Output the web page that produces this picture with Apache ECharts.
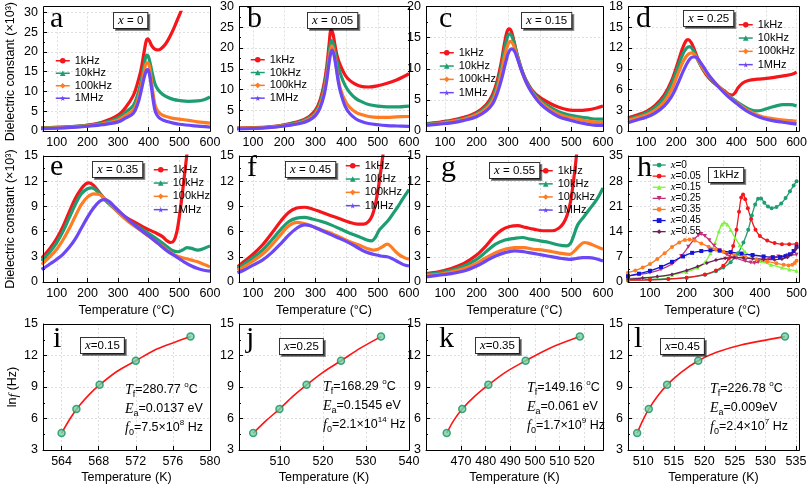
<!DOCTYPE html>
<html><head><meta charset="utf-8">
<script src="https://cdn.jsdelivr.net/npm/echarts@6/dist/echarts.min.js"></script>
<style>html,body{margin:0;padding:0;background:#fff}#c{width:810px;height:486px}</style>
</head><body><div id="c"></div><script>
// ---------------- DATA ----------------
const freqNames = ['1kHz','10kHz','100kHz','1MHz'];
const compNames = ['x=0','x=0.05','x=0.15','x=0.25','x=0.35','x=0.45','x=0.55'];
const panelLetters = ['a','b','c','d','e','f','g','h','i','j','k','l'];
const compLabels = ['0','0.05','0.15','0.25','0.35','0.45','0.55'];
const fitCompLabels = ['0.15','0.25','0.35','0.45'];
const celsiusTicks = [100,200,300,400,500,600];
const celsiusTicksH = [100,200,300,400,500];
const kelvinTicksI = [564,568,572,576,580];
const kelvinTicksJ = [510,520,530,540];
const kelvinTicksK = [470,480,490,500,510,520];
const kelvinTicksL = [510,515,520,525,530,535];

// panel a (x = 0)
const a_1k = [[40,0.8],[100,0.9],[150,1.1],[200,1.5],[250,2.3],[300,4.0],[325,6],[350,9],[365,12.5],[375,15.5],[385,20],[392,22.8],[397,23.3],[403,22.7],[410,21.5],[420,20.7],[430,20.5],[440,20.8],[455,22],[470,24],[485,26.5],[500,29.3],[515,32]];
const a_10k = [[40,0.8],[100,0.9],[150,1.1],[200,1.4],[250,2.0],[300,3.3],[325,4.8],[350,6.5],[365,9.5],[375,12.5],[385,16.5],[393,19.2],[398,19],[405,17],[412,14.5],[420,12],[430,10.5],[445,9.3],[460,8.6],[480,8.0],[500,7.7],[530,7.5],[560,7.6],[580,7.9],[600,8.6]];
const a_100k = [[40,0.7],[100,0.8],[150,1.0],[200,1.3],[250,1.8],[300,2.8],[325,4.0],[350,5.3],[365,8],[375,11],[385,15],[393,17.2],[398,17.2],[404,15.5],[410,12],[416,8.5],[422,6.2],[432,4.8],[445,4.0],[460,3.6],[480,3.2],[500,3.0],[530,2.7],[560,2.3],[600,2.0]];
const a_1M = [[40,0.6],[100,0.7],[150,0.9],[200,1.2],[250,1.6],[300,2.3],[325,3.3],[350,4.5],[365,7],[375,10],[385,13.5],[392,15.2],[396,15.5],[402,14.5],[408,11.5],[415,7.5],[422,4.8],[432,3.5],[445,2.8],[460,2.4],[480,2.0],[500,1.7],[550,1.3],[600,1.0]];
// panel b (x = 0.05)
const b_1k = [[40,0.7],[100,0.8],[150,1.0],[200,1.5],[250,2.4],[280,3.5],[300,5],[315,7.5],[328,11.5],[337,16],[344,21],[350,24.3],[356,23.5],[362,21],[370,18],[380,15.8],[395,13.5],[410,12.2],[430,11.2],[450,10.7],[470,10.6],[500,10.9],[530,11.5],[560,12.3],[580,13],[600,13.8]];
const b_10k = [[40,0.6],[100,0.7],[150,0.9],[200,1.4],[250,2.2],[280,3.2],[300,4.5],[315,6.8],[328,10.5],[337,14.5],[344,19],[351,21.8],[357,21],[363,19],[370,16.5],[380,13.8],[395,11],[410,9.3],[430,7.8],[450,7],[470,6.4],[500,6.0],[530,5.8],[560,5.8],[600,6.0]];
const b_100k = [[40,0.6],[100,0.7],[150,0.9],[200,1.3],[250,2.0],[280,2.9],[300,4.1],[315,6.2],[328,9.5],[337,13.5],[345,18],[352,20.5],[358,19.5],[365,16.5],[372,13],[380,10.2],[395,7.3],[410,5.7],[430,4.5],[450,3.9],[470,3.5],[500,3.3],[530,3.3],[560,3.4],[600,3.5]];
const b_1M = [[40,0.5],[100,0.6],[150,0.8],[200,1.2],[250,1.8],[280,2.6],[300,3.7],[315,5.6],[328,8.7],[337,12.5],[345,17],[353,19.5],[359,18.5],[366,15.5],[373,12],[380,9.5],[395,6],[410,4.2],[430,2.9],[450,2.2],[470,1.8],[500,1.5],[530,1.3],[560,1.2],[600,1.1]];
// panel c (x = 0.15)
const c_1k = [[40,1.2],[80,1.4],[120,1.7],[160,2.2],[200,3.0],[230,4.2],[250,5.8],[265,8],[278,11],[288,14],[296,15.9],[303,16.4],[310,16],[318,14.5],[328,12.3],[340,10.2],[355,8.3],[375,6.6],[400,5.4],[430,4.5],[460,3.8],[490,3.4],[520,3.3],[550,3.4],[580,3.7],[600,4.0]];
const c_10k = [[40,1.1],[80,1.3],[120,1.6],[160,2.0],[200,2.8],[230,3.9],[250,5.3],[265,7.4],[278,10.2],[288,13],[297,15],[305,15.6],[312,15.2],[320,13.9],[330,12],[342,10],[357,8],[377,6.3],[400,5.0],[430,3.9],[460,3.1],[490,2.6],[520,2.3],[550,2.1],[580,1.9],[600,1.9]];
const c_100k = [[40,1.0],[80,1.2],[120,1.5],[160,1.9],[200,2.6],[230,3.6],[250,4.8],[265,6.7],[278,9.3],[290,12.3],[300,14],[308,14.4],[315,14],[323,12.9],[333,11.2],[345,9.3],[360,7.5],[380,5.9],[400,4.7],[430,3.5],[460,2.7],[490,2.2],[520,1.9],[550,1.6],[580,1.4],[600,1.4]];
const c_1M = [[40,0.9],[80,1.1],[120,1.3],[160,1.7],[200,2.3],[230,3.2],[250,4.3],[265,6],[280,8.5],[292,11],[302,12.7],[312,13.2],[320,12.8],[328,11.8],[338,10.3],[350,8.7],[365,7],[385,5.4],[405,4.2],[430,3.2],[460,2.3],[490,1.8],[520,1.4],[550,1.1],[580,0.9],[600,0.9]];
// panel d (x = 0.25)
const d_1k = [[40,1.9],[70,2.3],[100,2.8],[130,3.7],[160,5.2],[185,7.3],[205,9.8],[220,11.8],[232,13],[240,13.2],[250,12.8],[262,11.6],[275,10.1],[290,8.8],[310,7.6],[335,6.6],[360,5.8],[375,5.3],[385,5.2],[395,5.5],[405,6.2],[420,6.9],[440,7.3],[470,7.5],[500,7.6],[530,7.8],[560,8],[585,8.2],[600,8.5]];
const d_10k = [[40,1.7],[70,2.1],[100,2.6],[130,3.4],[160,4.8],[185,6.8],[205,9.2],[222,11.1],[235,12],[245,12.2],[255,11.8],[268,10.6],[280,9.6],[300,8.3],[330,6.9],[360,5.7],[390,4.6],[420,3.7],[445,3.1],[465,2.9],[485,3.0],[505,3.3],[530,3.6],[555,3.8],[580,3.8],[600,3.6]];
const d_100k = [[40,1.5],[70,1.9],[100,2.3],[130,3.0],[160,4.2],[185,6],[205,8.2],[225,10.2],[240,11.1],[252,11.3],[262,11],[275,10.1],[290,9],[310,7.9],[340,6.5],[370,5.2],[400,4.1],[430,3.2],[460,2.5],[490,2.0],[520,1.8],[550,1.6],[580,1.5],[600,1.4]];
const d_1M = [[40,1.2],[70,1.6],[100,2.0],[130,2.6],[160,3.6],[185,5.0],[205,6.8],[225,8.8],[242,10.2],[255,10.7],[265,10.7],[278,10.1],[292,9.2],[310,8.0],[340,6.4],[370,5.1],[400,4.0],[430,3.0],[460,2.3],[490,1.8],[520,1.5],[550,1.3],[580,1.1],[600,1.0]];
// panel e (x = 0.35)
const e_1k = [[50,2.8],[60,3.2],[80,4.1],[100,5.2],[120,6.6],[140,8.3],[160,9.9],[180,11.1],[195,11.7],[205,11.8],[220,11.5],[240,10.6],[260,9.7],[280,9],[300,8.4],[330,7.6],[360,7],[390,6.4],[420,5.9],[445,5.4],[460,4.9],[472,4.7],[482,4.9],[492,6],[500,7.8],[508,10],[516,12.5],[524,15],[532,17.5]];
const e_10k = [[50,2.5],[60,2.9],[80,3.7],[100,4.7],[120,6],[140,7.6],[160,9.2],[180,10.5],[200,11.1],[215,11.2],[235,10.7],[260,9.7],[280,9],[300,8.3],[330,7.4],[360,6.7],[390,6],[420,5.3],[450,4.5],[475,3.8],[495,3.6],[510,3.8],[525,4.1],[540,4.0],[560,3.8],[580,4.0],[600,4.3]];
const e_100k = [[50,2.1],[60,2.4],[80,3.1],[100,3.9],[120,5],[140,6.3],[160,7.8],[180,9.2],[200,10.1],[220,10.5],[240,10.4],[260,9.8],[280,9.1],[300,8.3],[330,7.3],[360,6.5],[390,5.7],[420,4.9],[450,4.1],[475,3.4],[500,3.0],[520,2.8],[540,2.6],[560,2.4],[580,2.1],[600,1.8]];
const e_1M = [[50,1.5],[60,1.7],[80,2.2],[100,2.7],[120,3.3],[140,4.1],[160,5.1],[180,6.4],[200,7.7],[220,8.8],[240,9.6],[255,9.8],[270,9.6],[290,8.9],[310,8.2],[340,7.2],[370,6.3],[400,5.5],[430,4.6],[460,3.7],[490,3.0],[515,2.4],[540,1.9],[560,1.6],[580,1.4],[600,1.3]];
// panel f (x = 0.45)
const f_1k = [[50,1.8],[70,2.4],[100,3.3],[130,4.4],[160,5.8],[190,7.3],[215,8.3],[240,8.8],[265,8.9],[290,8.7],[320,8.3],[350,7.9],[380,7.5],[410,7.1],[435,6.9],[455,6.9],[470,7.2],[482,7.9],[492,9.2],[500,10.8],[508,12.8],[516,15],[524,17]];
const f_10k = [[50,1.6],[70,2.1],[100,2.9],[130,3.8],[160,5],[190,6.3],[215,7.2],[240,7.6],[265,7.7],[290,7.5],[320,7.2],[350,6.8],[380,6.3],[410,5.8],[440,5.4],[465,5.0],[480,4.9],[492,5.3],[505,6.2],[520,6.8],[535,7.4],[550,8.2],[565,9],[580,9.9],[600,11]];
const f_100k = [[50,1.4],[70,1.8],[100,2.5],[130,3.3],[160,4.4],[190,5.7],[215,6.7],[240,7.1],[260,7.0],[285,6.7],[320,6.2],[350,5.8],[380,5.3],[410,4.8],[440,4.4],[465,4.0],[485,3.8],[500,3.9],[515,4.2],[530,4.5],[540,4.3],[555,3.7],[570,3.2],[585,2.9],[600,2.7]];
const f_1M = [[50,1.1],[70,1.4],[100,2.0],[130,2.6],[160,3.5],[190,4.6],[215,5.6],[240,6.4],[265,6.8],[285,6.7],[310,6.3],[340,5.8],[370,5.3],[400,4.8],[430,4.2],[460,3.6],[485,3.3],[510,3.1],[530,3.0],[545,2.8],[560,2.5],[580,2.1],[600,1.9]];
// panel g (x = 0.55)
const g_1k = [[40,1.0],[80,1.2],[120,1.6],[160,2.2],[200,3.2],[230,4.3],[255,5.4],[280,6.2],[305,6.6],[330,6.7],[355,6.5],[380,6.3],[410,6.1],[440,6.1],[460,6.4],[475,7],[487,8],[497,9.5],[505,11.5],[513,14],[520,16.5]];
const g_10k = [[40,0.9],[80,1.1],[120,1.4],[160,1.9],[200,2.7],[230,3.6],[260,4.5],[290,5.0],[320,5.2],[345,5.3],[370,5.1],[400,4.9],[430,4.7],[460,4.4],[485,4.3],[497,4.6],[507,5.5],[520,6.8],[540,7.8],[560,8.8],[580,9.8],[600,11.2]];
const g_100k = [[40,0.8],[80,0.9],[120,1.2],[160,1.6],[200,2.2],[230,2.9],[260,3.5],[290,3.9],[320,4.1],[350,4.1],[380,3.9],[410,3.8],[440,3.6],[470,3.4],[495,3.3],[510,3.7],[525,4.3],[540,4.7],[555,4.6],[575,4.3],[600,3.9]];
const g_1M = [[40,0.6],[80,0.8],[120,1.0],[160,1.3],[200,1.9],[230,2.5],[260,3.1],[290,3.5],[320,3.7],[350,3.6],[380,3.4],[410,3.2],[440,3.0],[470,2.8],[495,2.7],[515,2.8],[535,2.9],[555,2.9],[575,2.8],[600,2.5]];
// panel h (1 kHz, all x)
const h_x0 = [[40,0.6],[100,0.7],[150,0.9],[200,1.2],[250,2.0],[280,3.0],[300,4.0],[320,5.5],[340,8],[355,11],[368,14.5],[378,18.5],[387,21.5],[395,23.1],[403,23.2],[412,22],[422,21],[432,20.5],[445,20.8],[458,21.8],[470,23.3],[482,25.2],[492,26.8],[500,28]];
const h_x005 = [[40,0.5],[100,0.6],[150,0.8],[200,1.2],[250,2.1],[280,3.2],[300,4.5],[315,6.5],[327,10],[336,14.5],[343,19.5],[349,23.5],[354,24.3],[360,23],[367,20.5],[376,17.5],[388,14.5],[400,12.8],[420,11.5],[440,10.8],[460,10.5],[480,10.5],[500,10.6]];
const h_x015 = [[40,1.0],[80,1.2],[120,1.5],[160,2.0],[200,2.8],[230,4],[250,5.5],[265,8],[278,11],[288,14],[296,16],[303,16.5],[311,16],[320,14.5],[332,12.3],[345,10.2],[360,8.3],[380,6.8],[400,5.8],[430,4.8],[460,4],[480,3.5],[500,3.1]];
const h_x025 = [[40,1.7],[70,2.1],[100,2.6],[130,3.5],[160,5],[185,7.2],[205,9.8],[220,11.8],[232,13],[240,13.3],[250,12.8],[262,11.6],[275,10.1],[290,8.8],[310,7.6],[335,6.6],[360,5.8],[375,5.4],[385,5.3],[395,5.5],[410,6.1],[430,6.7],[450,7.1],[475,7.4],[500,7.6]];
const h_x035 = [[40,2.6],[60,3.2],[80,4.0],[100,5.0],[120,6.4],[140,8],[160,9.7],[180,11],[195,11.7],[208,11.8],[222,11.5],[240,10.7],[260,9.8],[280,9],[300,8.4],[330,7.6],[360,7],[390,6.3],[420,5.7],[445,5.2],[465,4.8],[478,4.6],[488,4.8],[495,5.3],[500,5.9]];
const h_x045 = [[40,1.6],[70,2.3],[100,3.1],[130,4.2],[160,5.6],[190,7.1],[215,8.1],[240,8.6],[265,8.8],[290,8.7],[320,8.3],[350,7.9],[380,7.5],[410,7.1],[435,6.9],[455,6.9],[470,7.2],[482,7.7],[492,8.6],[500,9.8]];
const h_x055 = [[40,0.8],[80,1.1],[120,1.5],[160,2.1],[200,3.2],[230,4.3],[255,5.3],[280,6.1],[305,6.6],[330,6.8],[355,6.7],[380,6.5],[410,6.3],[440,6.2],[460,6.4],[475,6.9],[487,7.8],[497,9.0],[500,9.6]];
// panels i-l: ln f vs freezing temperature
const lnf = [4.61,6.91,9.21,11.51,13.82];
const i_T = [564.0,565.6,568.1,572.0,577.9];
const j_T = [503.8,509.9,516.2,524.2,533.5];
const k_T = [464.2,470.5,481.1,496.2,518.2];
const l_T = [509.0,510.9,513.9,519.0,533.2];
const i_fit = [[564,4.6],[565,6.1],[566,7.3],[567,8.3],[568.1,9.2],[570,10.5],[572,11.5],[574,12.5],[576,13.2],[577.9,13.8]];
const j_fit = [[503.8,4.6],[506.8,5.8],[509.9,6.9],[513,8.1],[516.2,9.2],[520,10.4],[524.2,11.5],[528.7,12.7],[533.5,13.8]];
const k_fit = [[464.2,4.6],[467,5.8],[470.5,6.9],[475.5,8.1],[481.1,9.2],[488,10.4],[496.2,11.5],[506,12.7],[518.2,13.8]];
const l_fit = [[509,4.6],[509.9,5.8],[510.9,6.9],[512.3,8.1],[513.9,9.2],[516.2,10.4],[519,11.5],[522,12.3],[526,13.0],[533.2,13.8]];
const fitText = [
  ['280.77','0.0137 eV','7.5','8'],
  ['168.29','0.1545 eV','2.1','14'],
  ['149.16','0.061 eV','1.7','9'],
  ['226.78','0.009eV','2.4','7']
];

// ---------------- STYLE / LAYOUT ----------------
const SANS = "'Liberation Sans', Arial, sans-serif";
const SERIF = "'Liberation Serif', 'Times New Roman', serif";
const freqColors = ['#f5161b','#1d9e70','#ff7c22','#6b47f5'];
const STAR = 'path://M50,0 L61,35 L98,35 L68,57 L79,91 L50,70 L21,91 L32,57 L2,35 L39,35 Z';
const freqSymbols = ['circle','triangle','diamond',STAR];
const compColors = ['#1f9e70','#f5161b','#7cf53a','#c2307a','#ff7c22','#1414d8','#6d1f5e'];
const compSymbols = ['circle','circle','triangle','triangle','circle','rect','diamond'];
const compRot = [0,0,0,180,0,0,0];

const G = [
 [43,6,167,125],[239,6,170,125],[426,6,177,125],[628,6,171,125],
 [43,156,167,126],[239,156,170,126],[426,156,177,126],[628,156,171,126],
 [43,324,167,126],[239,324,170,126],[426,324,177,126],[628,324,171,126]];

const freqData = [
  [a_1k,a_10k,a_100k,a_1M],[b_1k,b_10k,b_100k,b_1M],[c_1k,c_10k,c_100k,c_1M],[d_1k,d_10k,d_100k,d_1M],
  [e_1k,e_10k,e_100k,e_1M],[f_1k,f_10k,f_100k,f_1M],[g_1k,g_10k,g_100k,g_1M]];
const compData = [h_x0,h_x005,h_x015,h_x025,h_x035,h_x045,h_x055];
const fitT = [i_T,j_T,k_T,l_T];
const fitCurves = [i_fit,j_fit,k_fit,l_fit];

const xCfg = [
  [55,600,celsiusTicks],[55,600,celsiusTicks],[40,600,celsiusTicks],[40,600,celsiusTicks],
  [55,600,celsiusTicks],[55,600,celsiusTicks],[40,600,celsiusTicks],[40,500,celsiusTicksH],
  [562,580,kelvinTicksI],[500.5,540,kelvinTicksJ],[455.8,527.6,kelvinTicksK],[507.5,535.5,kelvinTicksL]];
const yCfg = [
  [0,30,5],[0,30,5],[0,20,5],[0,18,3],
  [0,15,3],[0,15,3],[0,15,3],[0,35,7],
  [3,15,3],[3,15,3],[3,15,3],[3,15,3]];

const grids = G.map(g => ({left:g[0], top:g[1], width:g[2], height:g[3], show:false, containLabel:false}));

const xAxes = xCfg.map((c,i) => {
  const o = {
    gridIndex:i, type:'value', min:c[0], max:c[1],
    axisLine:{onZero:false, lineStyle:{color:'#000', width:1}},
    axisTick:{inside:true, length:4, customValues:c[2], lineStyle:{color:'#000'}},
    axisLabel:{customValues:c[2], color:'#000', fontSize:12.5, fontFamily:SANS, margin:5},
    splitLine:{show:true, lineStyle:{color:'#dedede', type:[2,2], width:1}}
  };
  if (i>=4 && i<=7) { o.name='Temperature (°C)'; o.nameLocation='middle'; o.nameGap=22; o.nameTextStyle={color:'#000', fontSize:12.5, fontFamily:SANS}; }
  if (i>=8) { o.name='Temperature (K)'; o.nameLocation='middle'; o.nameGap=21; o.nameTextStyle={color:'#000', fontSize:12.5, fontFamily:SANS}; }
  return o;
});
const yAxes = yCfg.map((c,i) => {
  const o = {
    gridIndex:i, type:'value', min:c[0], max:c[1], interval:c[2],
    axisLine:{lineStyle:{color:'#000', width:1}},
    axisTick:{inside:true, length:4, lineStyle:{color:'#000'}},
    minorTick:{show:true, splitNumber:2, length:2, lineStyle:{color:'#000'}},
    axisLabel:{color:'#000', fontSize:12.5, fontFamily:SANS, margin:5},
    splitLine:{show:true, lineStyle:{color:'#dedede', type:[2,2], width:1}}
  };
  if (i===0 || i===4) { o.name='Dielectric constant (×10³)'; o.nameLocation='middle'; o.nameGap=26; o.nameTextStyle={color:'#000', fontSize:12.5, fontFamily:SANS}; }
  if (i===8) { o.name='{n|ln}{it|f}{n| (Hz)}'; o.nameLocation='middle'; o.nameGap=23;
    o.nameTextStyle={color:'#000', fontSize:12.5, fontFamily:SANS, rich:{n:{fontSize:12.5,fontFamily:SANS,color:'#000'}, it:{fontSize:13.5,fontFamily:SERIF,fontStyle:'italic',color:'#000'}}}; }
  return o;
});

const series = [];
freqData.forEach((set,p) => {
  set.forEach((d,k) => {
    series.push({type:'line', name:freqNames[k], xAxisIndex:p, yAxisIndex:p, data:d,
      smooth:0.35, showSymbol:false, symbol:freqSymbols[k], symbolSize:6,
      lineStyle:{width:3.2, color:freqColors[k]}, itemStyle:{color:freqColors[k]}, silent:true});
  });
});
compData.forEach((d,k) => {
  series.push({type:'line', name:compNames[k], xAxisIndex:7, yAxisIndex:7, data:d,
    smooth:0.35, showSymbol:true, symbol:compSymbols[k], symbolRotate:compRot[k], symbolSize:4,
    lineStyle:{width:1.3, color:compColors[k]}, itemStyle:{color:compColors[k]}, silent:true});
});
fitT.forEach((T,p) => {
  series.push({type:'line', xAxisIndex:8+p, yAxisIndex:8+p, data:fitCurves[p], smooth:0.3,
    showSymbol:false, lineStyle:{width:1.6, color:'#ff1414'}, silent:true, z:2});
  series.push({type:'scatter', xAxisIndex:8+p, yAxisIndex:8+p, data:T.map((t,n)=>[t,lnf[n]]),
    symbol:'circle', symbolSize:7, itemStyle:{color:'#6fd6a8', borderColor:'#1b8f5f', borderWidth:1.5}, silent:true, z:3});
});

const legPos = [[55,54.5,0],[250,53.5,0.3],[439,46.5,0.8],[738,18.5,0.8],[153,163.5,0.8],[345,159.5,0.8],[538,164.5,0.6]];
const legends = legPos.map(p => ({
  left:p[0], top:p[1], orient:'vertical', itemGap:p[2], itemWidth:14, itemHeight:7, itemTextGap:3, padding:0,
  data:freqNames, selectedMode:false, lineStyle:{width:1.5},
  textStyle:{fontSize:11, fontFamily:SANS, color:'#000', lineHeight:12.5}
}));
legends.push({
  left:652, top:159.5, orient:'vertical', itemGap:0, itemWidth:13, itemHeight:6, itemTextGap:3, padding:0,
  data:compNames, selectedMode:false, lineStyle:{width:1.3},
  formatter: n => '{i|x}{n|' + n.slice(1) + '}',
  textStyle:{fontSize:10, fontFamily:SANS, color:'#000', lineHeight:11.1,
    rich:{i:{fontSize:11, fontFamily:SERIF, fontStyle:'italic', color:'#000', lineHeight:11.1}, n:{fontSize:10, fontFamily:SANS, color:'#000', lineHeight:11.1}}}
});

// ---------------- ANNOTATIONS ----------------
const graphic = [];
// plot frames drawn on top of the dotted grid lines
G.forEach(g => graphic.push({type:'rect', z:90, silent:true,
  shape:{x:g[0]+0.5, y:g[1]+0.5, width:g[2], height:g[3]},
  style:{fill:null, stroke:'#000', lineWidth:1}}));
const letterPos = [[50,4],[247,4],[439,4],[636,4],[50,152],[247,153],[441,153],[637,153],[53,324],[246,324],[439,324],[634,324]];
panelLetters.forEach((L,i) => graphic.push({type:'text', left:letterPos[i][0], top:letterPos[i][1], z:100,
  style:{text:L, font:"30px " + SERIF, fill:'#000'}}));

const boxRich = {
  i:{fontFamily:SERIF, fontStyle:'italic', fontSize:13, fill:'#000', color:'#000'},
  n:{fontFamily:SANS, fontSize:11.5, fill:'#000', color:'#000'}
};
function boxText(txt, left, top) {
  graphic.push({type:'text', left, top, z:100,
    style:{text:txt, rich:boxRich, fill:'#000', backgroundColor:'#fff', borderColor:'#333', borderWidth:1, padding:[1,4,1,4],
      shadowColor:'rgba(0,0,0,0.45)', shadowOffsetX:2, shadowOffsetY:2, shadowBlur:0}});
}
const boxPos = [[113,12],[307,12],[521,12],[683,10],[92,161],[285,161],[489,162]];
compLabels.forEach((c,i) => boxText('{i|x}{n| = ' + c + '}', boxPos[i][0], boxPos[i][1]));
boxText('{n|1kHz}', 708, 167);
const fitBoxPos = [[80,337],[279,338],[475,337],[660,338]];
fitCompLabels.forEach((c,i) => boxText('{i|x}{n|=' + c + '}', fitBoxPos[i][0], fitBoxPos[i][1]));

const annRich = {
  it:{fontFamily:SERIF, fontStyle:'italic', fontSize:14, fill:'#000', lineHeight:19},
  n:{fontFamily:SANS, fontSize:12.5, fill:'#000', lineHeight:19},
  sub:{fontFamily:SANS, fontSize:9, fill:'#000', lineHeight:9, verticalAlign:'bottom'},
  sup:{fontFamily:SANS, fontSize:8, fill:'#000', lineHeight:8, verticalAlign:'top'},
  deg:{fontFamily:SANS, fontSize:8, fill:'#000', lineHeight:8, verticalAlign:'top'}
};
const annPos = [[125,380.5],[323,377.5],[527,378.5],[710,379.5]];
fitText.forEach((t,i) => {
  const s = '{it|T}{sub|f}{n|=' + t[0] + ' }{deg|o}{n|C}\n{it|E}{sub|a}{n|=' + t[1] + '}\n{it|f}{sub|0}{n|=' + t[2] + '×10}{sup|' + t[3] + '}{n| Hz}';
  graphic.push({type:'text', left:annPos[i][0], top:annPos[i][1], z:100, style:{text:s, rich:annRich, fill:'#000'}});
});

const chart = echarts.init(document.getElementById('c'), null, {renderer:'canvas'});
chart.setOption({
  animation:false, backgroundColor:'#fff',
  grid:grids, xAxis:xAxes, yAxis:yAxes, series, legend:legends, graphic
});
</script></body></html>
